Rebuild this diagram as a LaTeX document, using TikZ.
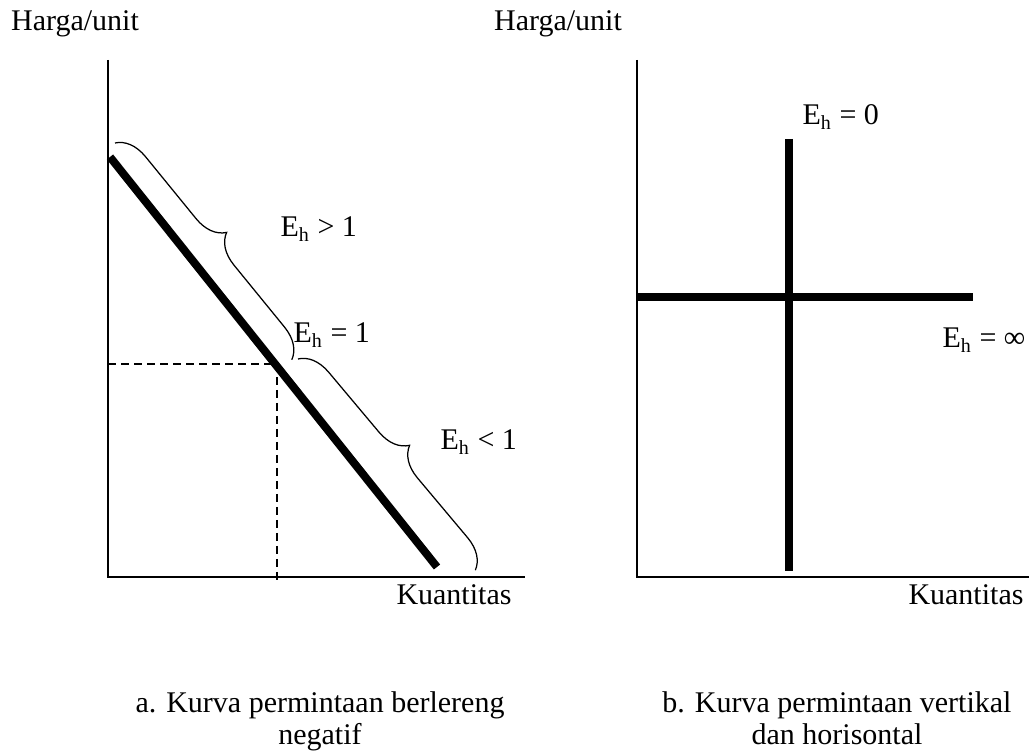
\documentclass[tikz,border=0pt]{standalone}
\usepackage{fontspec}
\setmainfont{Liberation Serif}
\usetikzlibrary{decorations.pathreplacing}
\begin{document}
\begin{tikzpicture}[x=0.4pt,y=-0.4pt,
  lbl/.style={inner sep=0pt,font=\fontsize{12}{14}\selectfont},
  axisline/.style={line width=0.8pt},
  curve/.style={line width=3.2pt},
  guide/.style={line width=0.5pt,dash pattern=on 3.2pt off 2pt},
  bracebox/.style={line width=0.5pt,decorate,decoration={brace,amplitude=12pt}}]
\useasboundingbox (0,0) rectangle (1029,751);
% left panel
\coordinate (Ltop) at (108,60);
\coordinate (Lo) at (108,577);
\coordinate (Lright) at (525,577);
\draw[axisline] (Ltop) -- (Lo) -- (Lright);
\coordinate (D1) at (110,157);
\coordinate (D2) at (437,567);
\draw[curve] (D1) -- (D2);
\coordinate (E) at (277,364);
\coordinate (Ey) at (108,364);
\coordinate (Ex) at (277,585);
\draw[guide] (Ey) -- (E) -- (Ex);
\coordinate (B1a) at (115,143);
\coordinate (B1b) at (292,360);
\coordinate (B2a) at (298,359);
\coordinate (B2b) at (476,571);
\draw[bracebox] (B1a) -- (B1b);
\draw[bracebox] (B2a) -- (B2b);
\node[lbl,anchor=base west] (eg1) at (280,237) {E\textsubscript{h} > 1};
\node[lbl,anchor=base west] (ee1) at (293,343) {E\textsubscript{h} = 1};
\node[lbl,anchor=base west] (el1) at (440,450) {E\textsubscript{h} < 1};
\node[lbl,anchor=base] (hl) at (75,31) {Harga/unit};
\node[lbl,anchor=base] (kl) at (454,605) {Kuantitas};
% right panel
\coordinate (Rtop) at (637,60);
\coordinate (Ro) at (637,577);
\coordinate (Rright) at (1029,577);
\draw[axisline] (Rtop) -- (Ro) -- (Rright);
\coordinate (H1) at (637,297);
\coordinate (H2) at (973,297);
\coordinate (V1) at (789,139);
\coordinate (V2) at (789,571);
\draw[curve] (H1) -- (H2);
\draw[curve] (V1) -- (V2);
\node[lbl,anchor=base west] (e0) at (802,125) {E\textsubscript{h} = 0};
\node[lbl,anchor=base west] (einf) at (942,348) {E\textsubscript{h} = ∞};
\node[lbl,anchor=base] (hr) at (558,31) {Harga/unit};
\node[lbl,anchor=base] (kr) at (966,605) {Kuantitas};
% captions
\node[lbl,anchor=base] (ca1) at (320,713) {a. Kurva permintaan berlereng};
\node[lbl,anchor=base] (ca2) at (320,745) {negatif};
\node[lbl,anchor=base] (cb1) at (837,713) {b. Kurva permintaan vertikal};
\node[lbl,anchor=base] (cb2) at (837,745) {dan horisontal};
\end{tikzpicture}
\end{document}
